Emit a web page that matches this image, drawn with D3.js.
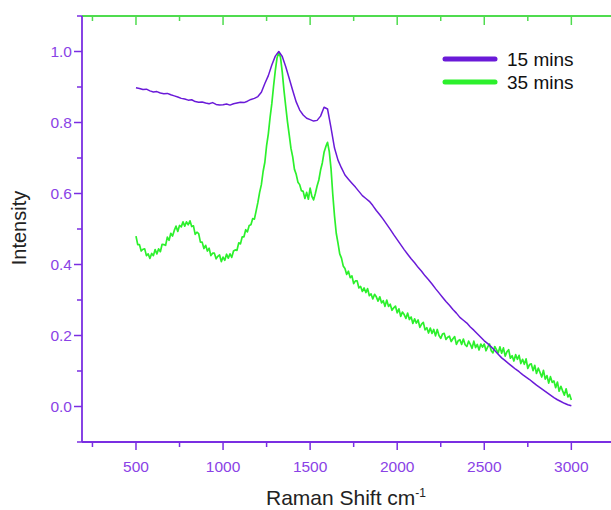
<!DOCTYPE html>
<html>
<head>
<meta charset="utf-8">
<script src="https://cdn.jsdelivr.net/npm/d3@7"></script>
<style>
  html, body { margin: 0; padding: 0; background: #fff; }
  svg { display: block; }
  text { font-family: "Liberation Sans", Arial, sans-serif; }
</style>
</head>
<body>
<svg id="chart" width="611" height="510"></svg>
<script>
// Raman spectra, intensity normalised to the D band
const xTicksMajor = [500, 1000, 1500, 2000, 2500, 3000];
const yTicksMajor = [0.0, 0.2, 0.4, 0.6, 0.8, 1.0];
const seriesNames = ["15 mins", "35 mins"];

// 15 mins: shifts 500..3000 every 20 cm-1
const shift15Start = 500, shift15Step = 20;
const intensity15 = [
  0.898, 0.896, 0.893, 0.894, 0.889,
  0.886, 0.887, 0.883, 0.881, 0.882,
  0.878, 0.875, 0.872, 0.868, 0.866,
  0.863, 0.864, 0.859, 0.857, 0.858,
  0.855, 0.853, 0.856, 0.851, 0.849,
  0.850, 0.852, 0.849, 0.853, 0.855,
  0.857, 0.856, 0.860, 0.865, 0.868,
  0.873, 0.885, 0.910, 0.932, 0.962,
  0.987, 1.000, 0.986, 0.957, 0.924,
  0.890, 0.858, 0.835, 0.821, 0.812,
  0.808, 0.804, 0.806, 0.818, 0.843,
  0.838, 0.785, 0.728, 0.694, 0.672,
  0.652, 0.640, 0.629, 0.618, 0.606,
  0.594, 0.586, 0.578, 0.566, 0.552,
  0.540, 0.527, 0.513, 0.499, 0.484,
  0.470, 0.456, 0.442, 0.429, 0.416,
  0.405, 0.392, 0.381, 0.368, 0.357,
  0.345, 0.332, 0.320, 0.308, 0.296,
  0.285, 0.273, 0.263, 0.251, 0.243,
  0.235, 0.224, 0.215, 0.205, 0.195,
  0.185, 0.177, 0.168, 0.158, 0.147,
  0.137, 0.129, 0.121, 0.113, 0.105,
  0.098, 0.090, 0.083, 0.076, 0.068,
  0.060, 0.053, 0.046, 0.039, 0.032,
  0.025, 0.019, 0.014, 0.009, 0.005,
  0.002
];

// 35 mins: shifts 500..3000 every 10 cm-1 (noisy trace)
const shift35Start = 500, shift35Step = 10;
const intensity35 = [
  0.480, 0.456, 0.456, 0.438, 0.443, 0.444, 0.425, 0.430, 0.417, 0.431,
  0.425, 0.442, 0.430, 0.444, 0.436, 0.457, 0.456, 0.454, 0.477, 0.468,
  0.488, 0.480, 0.496, 0.508, 0.493, 0.510, 0.506, 0.520, 0.508, 0.520,
  0.512, 0.523, 0.507, 0.509, 0.485, 0.491, 0.487, 0.463, 0.463, 0.445,
  0.454, 0.438, 0.446, 0.425, 0.432, 0.432, 0.416, 0.423, 0.427, 0.408,
  0.421, 0.412, 0.429, 0.418, 0.430, 0.420, 0.438, 0.441, 0.440, 0.461,
  0.458, 0.478, 0.478, 0.498, 0.492, 0.510, 0.512, 0.529, 0.528, 0.551,
  0.575, 0.603, 0.625, 0.662, 0.688, 0.735, 0.768, 0.814, 0.853, 0.902,
  0.946, 0.982, 0.998, 0.983, 0.942, 0.890, 0.845, 0.802, 0.765, 0.727,
  0.703, 0.668, 0.654, 0.632, 0.625, 0.608, 0.606, 0.586, 0.603, 0.584,
  0.615, 0.592, 0.582, 0.600, 0.621, 0.638, 0.666, 0.686, 0.716, 0.732,
  0.744, 0.718, 0.670, 0.598, 0.537, 0.488, 0.460, 0.430, 0.418, 0.396,
  0.389, 0.372, 0.381, 0.363, 0.368, 0.346, 0.354, 0.354, 0.334, 0.338,
  0.324, 0.334, 0.321, 0.332, 0.312, 0.317, 0.303, 0.316, 0.309, 0.297,
  0.309, 0.292, 0.298, 0.282, 0.300, 0.282, 0.288, 0.271, 0.278, 0.283,
  0.264, 0.275, 0.254, 0.266, 0.259, 0.248, 0.263, 0.245, 0.252, 0.234,
  0.247, 0.235, 0.244, 0.223, 0.232, 0.237, 0.216, 0.222, 0.207, 0.221,
  0.206, 0.217, 0.199, 0.217, 0.200, 0.192, 0.204, 0.206, 0.189, 0.195,
  0.198, 0.183, 0.191, 0.197, 0.175, 0.185, 0.188, 0.175, 0.190, 0.174,
  0.169, 0.184, 0.175, 0.164, 0.184, 0.166, 0.175, 0.159, 0.176, 0.167,
  0.176, 0.157, 0.168, 0.176, 0.157, 0.151, 0.169, 0.160, 0.151, 0.168,
  0.150, 0.165, 0.142, 0.154, 0.160, 0.136, 0.143, 0.128, 0.146, 0.133,
  0.144, 0.121, 0.133, 0.119, 0.134, 0.107, 0.118, 0.120, 0.101, 0.116,
  0.093, 0.108, 0.096, 0.083, 0.102, 0.077, 0.087, 0.066, 0.084, 0.068,
  0.072, 0.053, 0.069, 0.043, 0.057, 0.044, 0.032, 0.050, 0.027, 0.034,
  0.018
];

const purple = "#6a1ad8";
const purpleAxis = "#7a2ee2";
const purpleText = "#8a42e6";
const green = "#2cf02c";
const greenAxis = "#4fdc4f";

const svg = d3.select("#chart");

const x = d3.scaleLinear().domain([190, 3400]).range([82, 641]);
const y = d3.scaleLinear().domain([-0.1, 1.1]).range([442, 16]);

const data15 = intensity15.map((v, i) => ({ s: shift15Start + i * shift15Step, v }));
const data35 = intensity35.map((v, i) => ({ s: shift35Start + i * shift35Step, v }));

const line = d3.line().x(d => x(d.s)).y(d => y(d.v));

// spectra
svg.append("path").datum(data35)
  .attr("d", line).attr("fill", "none")
  .attr("stroke", green).attr("stroke-width", 1.7).attr("stroke-linejoin", "round");
svg.append("path").datum(data15)
  .attr("d", line).attr("fill", "none")
  .attr("stroke", purple).attr("stroke-width", 1.5).attr("stroke-linejoin", "round");

// minor tick positions
const xMinor = d3.range(250, 3400, 250).filter(v => v % 500 !== 0);
const yMinor = d3.range(-0.1, 1.1001, 0.2).map(v => +v.toFixed(2));

// bottom axis
const axisBottomG = svg.append("g").attr("transform", `translate(0,${y(-0.1)})`);
axisBottomG.append("line").attr("x1", x(190)).attr("x2", 611)
  .attr("stroke", purpleAxis).attr("stroke-width", 1.8);
axisBottomG.selectAll(".maj").data(xTicksMajor).join("line")
  .attr("x1", d => x(d)).attr("x2", d => x(d)).attr("y1", 0).attr("y2", 8)
  .attr("stroke", purpleAxis).attr("stroke-width", 1.5);
axisBottomG.selectAll(".min").data(xMinor).join("line")
  .attr("x1", d => x(d)).attr("x2", d => x(d)).attr("y1", 0).attr("y2", 5)
  .attr("stroke", purpleAxis).attr("stroke-width", 1.5);
axisBottomG.selectAll("text").data(xTicksMajor).join("text")
  .attr("x", d => x(d)).attr("y", 30)
  .attr("text-anchor", "middle").attr("font-size", 15.5)
  .attr("fill", purpleText).text(d => d);

// top axis
const axisTopG = svg.append("g").attr("transform", `translate(0,${y(1.1)})`);
axisTopG.append("line").attr("x1", x(190)).attr("x2", 611)
  .attr("stroke", greenAxis).attr("stroke-width", 1.8);
axisTopG.selectAll(".maj").data(xTicksMajor).join("line")
  .attr("x1", d => x(d)).attr("x2", d => x(d)).attr("y1", 0).attr("y2", 9)
  .attr("stroke", greenAxis).attr("stroke-width", 1.5);
axisTopG.selectAll(".min").data(xMinor).join("line")
  .attr("x1", d => x(d)).attr("x2", d => x(d)).attr("y1", 0).attr("y2", 5)
  .attr("stroke", greenAxis).attr("stroke-width", 1.5);

// left axis
const axisLeftG = svg.append("g").attr("transform", `translate(${x(190)},0)`);
axisLeftG.append("line").attr("y1", y(1.1)).attr("y2", y(-0.1))
  .attr("stroke", purpleAxis).attr("stroke-width", 1.8);
axisLeftG.selectAll(".maj").data(yTicksMajor).join("line")
  .attr("y1", d => y(d)).attr("y2", d => y(d)).attr("x1", 0).attr("x2", -8)
  .attr("stroke", purpleAxis).attr("stroke-width", 1.5);
axisLeftG.selectAll(".min").data(yMinor).join("line")
  .attr("y1", d => y(d)).attr("y2", d => y(d)).attr("x1", 0).attr("x2", -5)
  .attr("stroke", purpleAxis).attr("stroke-width", 1.5);
axisLeftG.selectAll("text").data(yTicksMajor).join("text")
  .attr("x", -10).attr("y", d => y(d) + 5.5)
  .attr("text-anchor", "end").attr("font-size", 15.5)
  .attr("fill", purpleText).text(d => d.toFixed(1));

// axis titles
const xTitle = svg.append("text").attr("x", 346).attr("y", 505)
  .attr("text-anchor", "middle").attr("font-size", 21).attr("fill", "#222");
xTitle.append("tspan").text("Raman Shift cm");
xTitle.append("tspan").attr("dy", -8).attr("font-size", 12).text("-1");

svg.append("text")
  .attr("transform", "translate(26,228) rotate(-90)")
  .attr("text-anchor", "middle").attr("font-size", 20).attr("fill", "#222")
  .text("Intensity");

// legend
const legendG = svg.append("g");
const legColors = [purple, green];
const legY = [59, 82];
seriesNames.forEach((name, i) => {
  legendG.append("line").attr("x1", 445).attr("x2", 495)
    .attr("y1", legY[i]).attr("y2", legY[i])
    .attr("stroke", legColors[i]).attr("stroke-width", 5).attr("stroke-linecap", "round");
  legendG.append("text").attr("x", 507).attr("y", legY[i] + 6.5)
    .attr("font-size", 19).attr("fill", "#111").text(name);
});
</script>
</body>
</html>
